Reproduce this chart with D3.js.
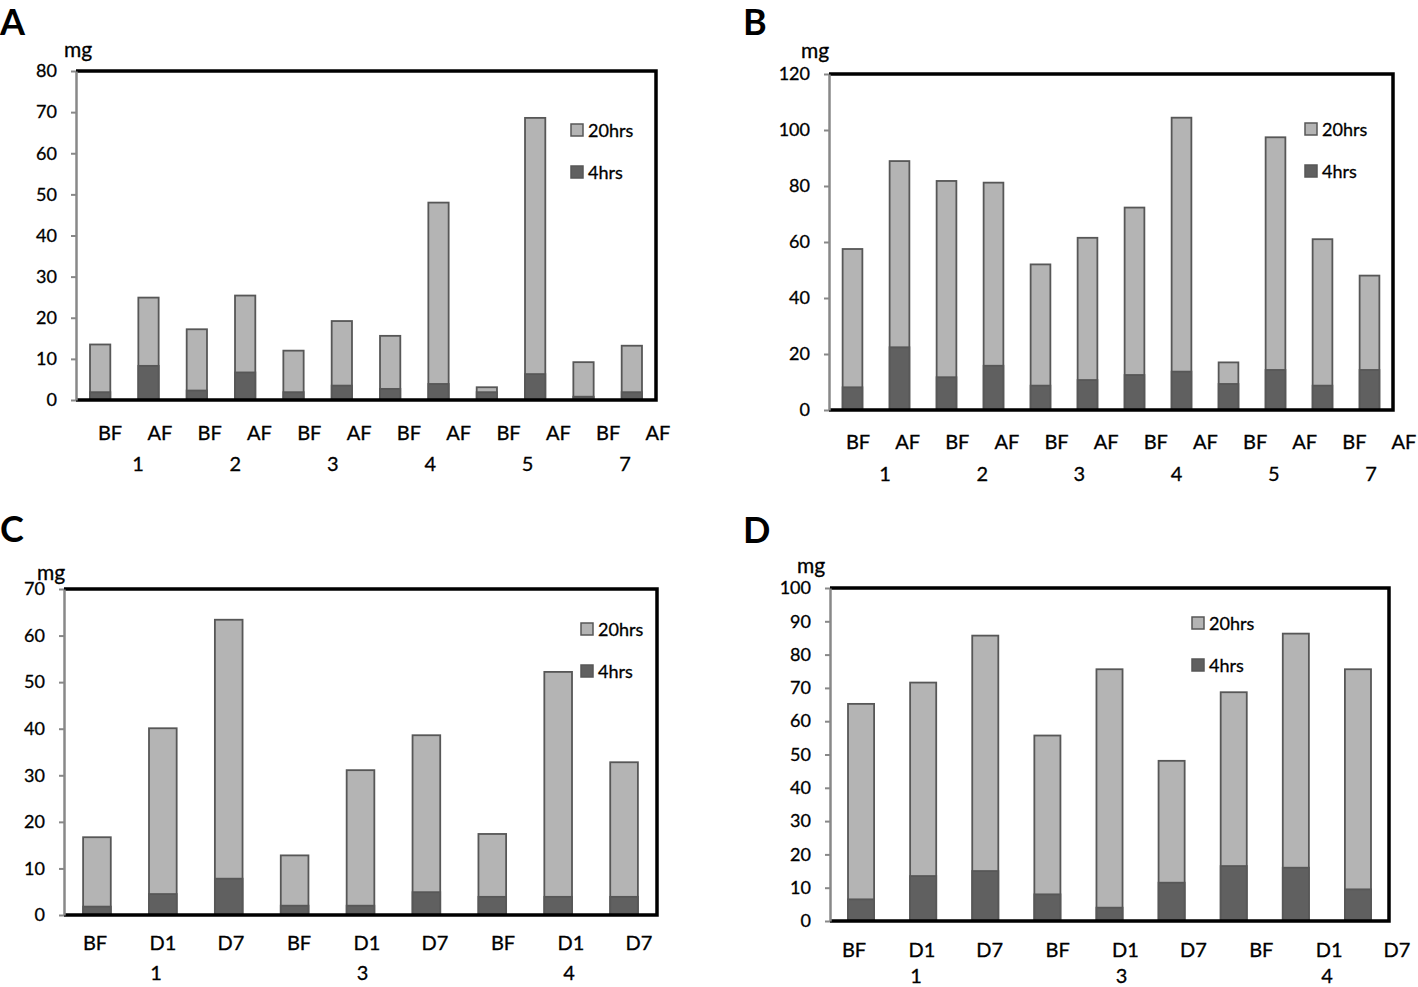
<!DOCTYPE html>
<html>
<head>
<meta charset="utf-8">
<script src="https://cdn.jsdelivr.net/npm/d3@7"></script>
<style>
  html, body { margin: 0; padding: 0; background: #fff; }
  svg { display: block; }
  text { font-family: Lato, "Open Sans", sans-serif; fill: #000; }
</style>
</head>
<body>
<svg id="chart" width="1418" height="987"></svg>
<script>
// ---------- DATA ----------
const catsAB   = ["BF","AF","BF","AF","BF","AF","BF","AF","BF","AF","BF","AF"];
const groupsAB = ["1","2","3","4","5","7"];
const catsCD   = ["BF","D1","D7","BF","D1","D7","BF","D1","D7"];
const groupsCD = ["1","3","4"];
const seriesNames = ["20hrs","4hrs"];

// Panel A (mg)
const a20 = [13.5, 24.9, 17.2, 25.4, 12.0, 19.2, 15.6, 48.0, 3.1, 68.6, 9.2, 13.2];
const a4  = [1.9, 8.3, 2.3, 6.7, 1.9, 3.5, 2.7, 3.9, 1.9, 6.3, 0.8, 1.9];
const ticksA = [0,10,20,30,40,50,60,70,80];

// Panel B (mg)
const b20 = [57.5, 88.9, 81.8, 81.2, 52.0, 61.5, 72.3, 104.4, 17.0, 97.4, 61.0, 48.0];
const b4  = [8.1, 22.4, 11.7, 15.8, 8.7, 10.7, 12.5, 13.7, 9.3, 14.3, 8.7, 14.3];
const ticksB = [0,20,40,60,80,100,120];

// Panel C (mg)
const c20 = [16.7, 40.1, 63.4, 12.8, 31.1, 38.6, 17.4, 52.2, 32.8];
const c4  = [1.8, 4.5, 7.8, 2.0, 2.0, 4.9, 3.9, 3.9, 3.9];
const ticksC = [0,10,20,30,40,50,60,70];

// Panel D (mg)
const d20 = [65.2, 71.6, 85.7, 55.7, 75.6, 48.1, 68.7, 86.3, 75.6];
const d4  = [6.5, 13.5, 15.0, 8.0, 4.0, 11.5, 16.5, 16.0, 9.5];
const ticksD = [0,10,20,30,40,50,60,70,80,90,100];

const panelLetters = ["A","B","C","D"];
const unitLabel = "mg";

// ---------- LAYOUT / STYLE ----------
const LIGHT = "#b4b4b4", DARK = "#606060", EDGE = "#575757";

const panels = [
  { letter: panelLetters[0], cats: catsAB, groups: groupsAB, v20: a20, v4: a4, ticks: ticksA,
    L: 76, R: 656, T: 71, B: 400,
    letterX: 0, letterY: 35, mgX: 64, mgY: 57,
    catRange: [110, 658], catY: 440, grpRange: [138, 625], grpY: 471,
    legX: 571, legY: 124 },
  { letter: panelLetters[1], cats: catsAB, groups: groupsAB, v20: b20, v4: b4, ticks: ticksB,
    L: 829, R: 1393, T: 74, B: 410,
    letterX: 743, letterY: 35, mgX: 801, mgY: 58,
    catRange: [858, 1404], catY: 449, grpRange: [885, 1371], grpY: 481,
    legX: 1305, legY: 123 },
  { letter: panelLetters[2], cats: catsCD, groups: groupsCD, v20: c20, v4: c4, ticks: ticksC,
    L: 64, R: 657, T: 589, B: 915,
    letterX: 0, letterY: 542, mgX: 37, mgY: 580,
    catRange: [95, 639], catY: 950, grpRange: [156, 569], grpY: 980,
    legX: 581, legY: 623 },
  { letter: panelLetters[3], cats: catsCD, groups: groupsCD, v20: d20, v4: d4, ticks: ticksD,
    L: 830, R: 1389, T: 588, B: 921,
    letterX: 743, letterY: 543, mgX: 797, mgY: 573,
    catRange: [854, 1397], catY: 957, grpRange: [916, 1327], grpY: 983,
    legX: 1192, legY: 617 }
];

const svg = d3.select("#chart");

panels.forEach(p => {
  const g = svg.append("g");
  const n = p.cats.length;
  const idx = d3.range(n);

  const x = d3.scaleBand().domain(idx).range([p.L, p.R]).paddingInner(0.58).paddingOuter(0.29);
  const y = d3.scaleLinear().domain([0, d3.max(p.ticks)]).range([p.B, p.T]);

  // bars: 20hrs (light, full) then 4hrs (dark, overlaid at base)
  g.selectAll("rect.l").data(idx).join("rect")
    .attr("class", "l")
    .attr("x", i => x(i)).attr("width", x.bandwidth())
    .attr("y", i => y(p.v20[i])).attr("height", i => y(0) - y(p.v20[i]))
    .attr("fill", LIGHT).attr("stroke", EDGE).attr("stroke-width", 1.8);
  g.selectAll("rect.d").data(idx).join("rect")
    .attr("class", "d")
    .attr("x", i => x(i)).attr("width", x.bandwidth())
    .attr("y", i => y(p.v4[i])).attr("height", i => y(0) - y(p.v4[i]))
    .attr("fill", DARK).attr("stroke", EDGE).attr("stroke-width", 1.8);

  // frame: top, right, bottom black
  g.append("path")
    .attr("d", `M${p.L},${p.T}H${p.R}V${p.B}H${p.L}`)
    .attr("fill", "none").attr("stroke", "#000").attr("stroke-width", 3.5);

  // left axis
  const ax = g.append("g").attr("transform", `translate(${p.L},0)`)
    .call(d3.axisLeft(y).tickValues(p.ticks).tickSize(5).tickPadding(14).tickSizeOuter(0));
  ax.select(".domain").attr("stroke", "#888").attr("stroke-width", 2.5);
  ax.selectAll(".tick line").attr("stroke", "#888").attr("stroke-width", 2);
  ax.selectAll(".tick text").attr("font-size", 18).attr("font-family", "Lato, sans-serif")
    .attr("fill", "#000").attr("stroke", "#000").attr("stroke-width", 0.3);

  // unit label
  g.append("text").attr("x", p.mgX).attr("y", p.mgY).attr("font-size", 21)
    .attr("stroke", "#000").attr("stroke-width", 0.3).text(unitLabel);

  // panel letter
  g.append("text").attr("x", p.letterX).attr("y", p.letterY)
    .attr("font-family", "Liberation Sans, Arial, sans-serif").attr("font-weight", "bold")
    .attr("font-size", 36).text(p.letter);

  // category labels (positioned independently, as in original)
  const xc = d3.scalePoint().domain(idx).range(p.catRange);
  g.selectAll("text.cat").data(idx).join("text")
    .attr("class", "cat")
    .attr("x", i => xc(i)).attr("y", p.catY)
    .attr("text-anchor", "middle").attr("font-size", 20)
    .attr("stroke", "#000").attr("stroke-width", 0.3)
    .text(i => p.cats[i]);

  const xg = d3.scalePoint().domain(p.groups).range(p.grpRange);
  g.selectAll("text.grp").data(p.groups).join("text")
    .attr("class", "grp")
    .attr("x", d => xg(d)).attr("y", p.grpY)
    .attr("text-anchor", "middle").attr("font-size", 20)
    .attr("stroke", "#000").attr("stroke-width", 0.3)
    .text(d => d);

  // legend
  const leg = g.selectAll("g.leg").data(seriesNames).join("g")
    .attr("class", "leg")
    .attr("transform", (d, i) => `translate(${p.legX},${p.legY + i * 42})`);
  leg.append("rect").attr("x", 0).attr("y", 0).attr("width", 12).attr("height", 12)
    .attr("fill", (d, i) => i === 0 ? LIGHT : DARK).attr("stroke", EDGE).attr("stroke-width", 1.5);
  leg.append("text").attr("x", 17).attr("y", 13).attr("font-size", 18)
    .attr("stroke", "#000").attr("stroke-width", 0.3).text(d => d);
});
</script>
</body>
</html>
